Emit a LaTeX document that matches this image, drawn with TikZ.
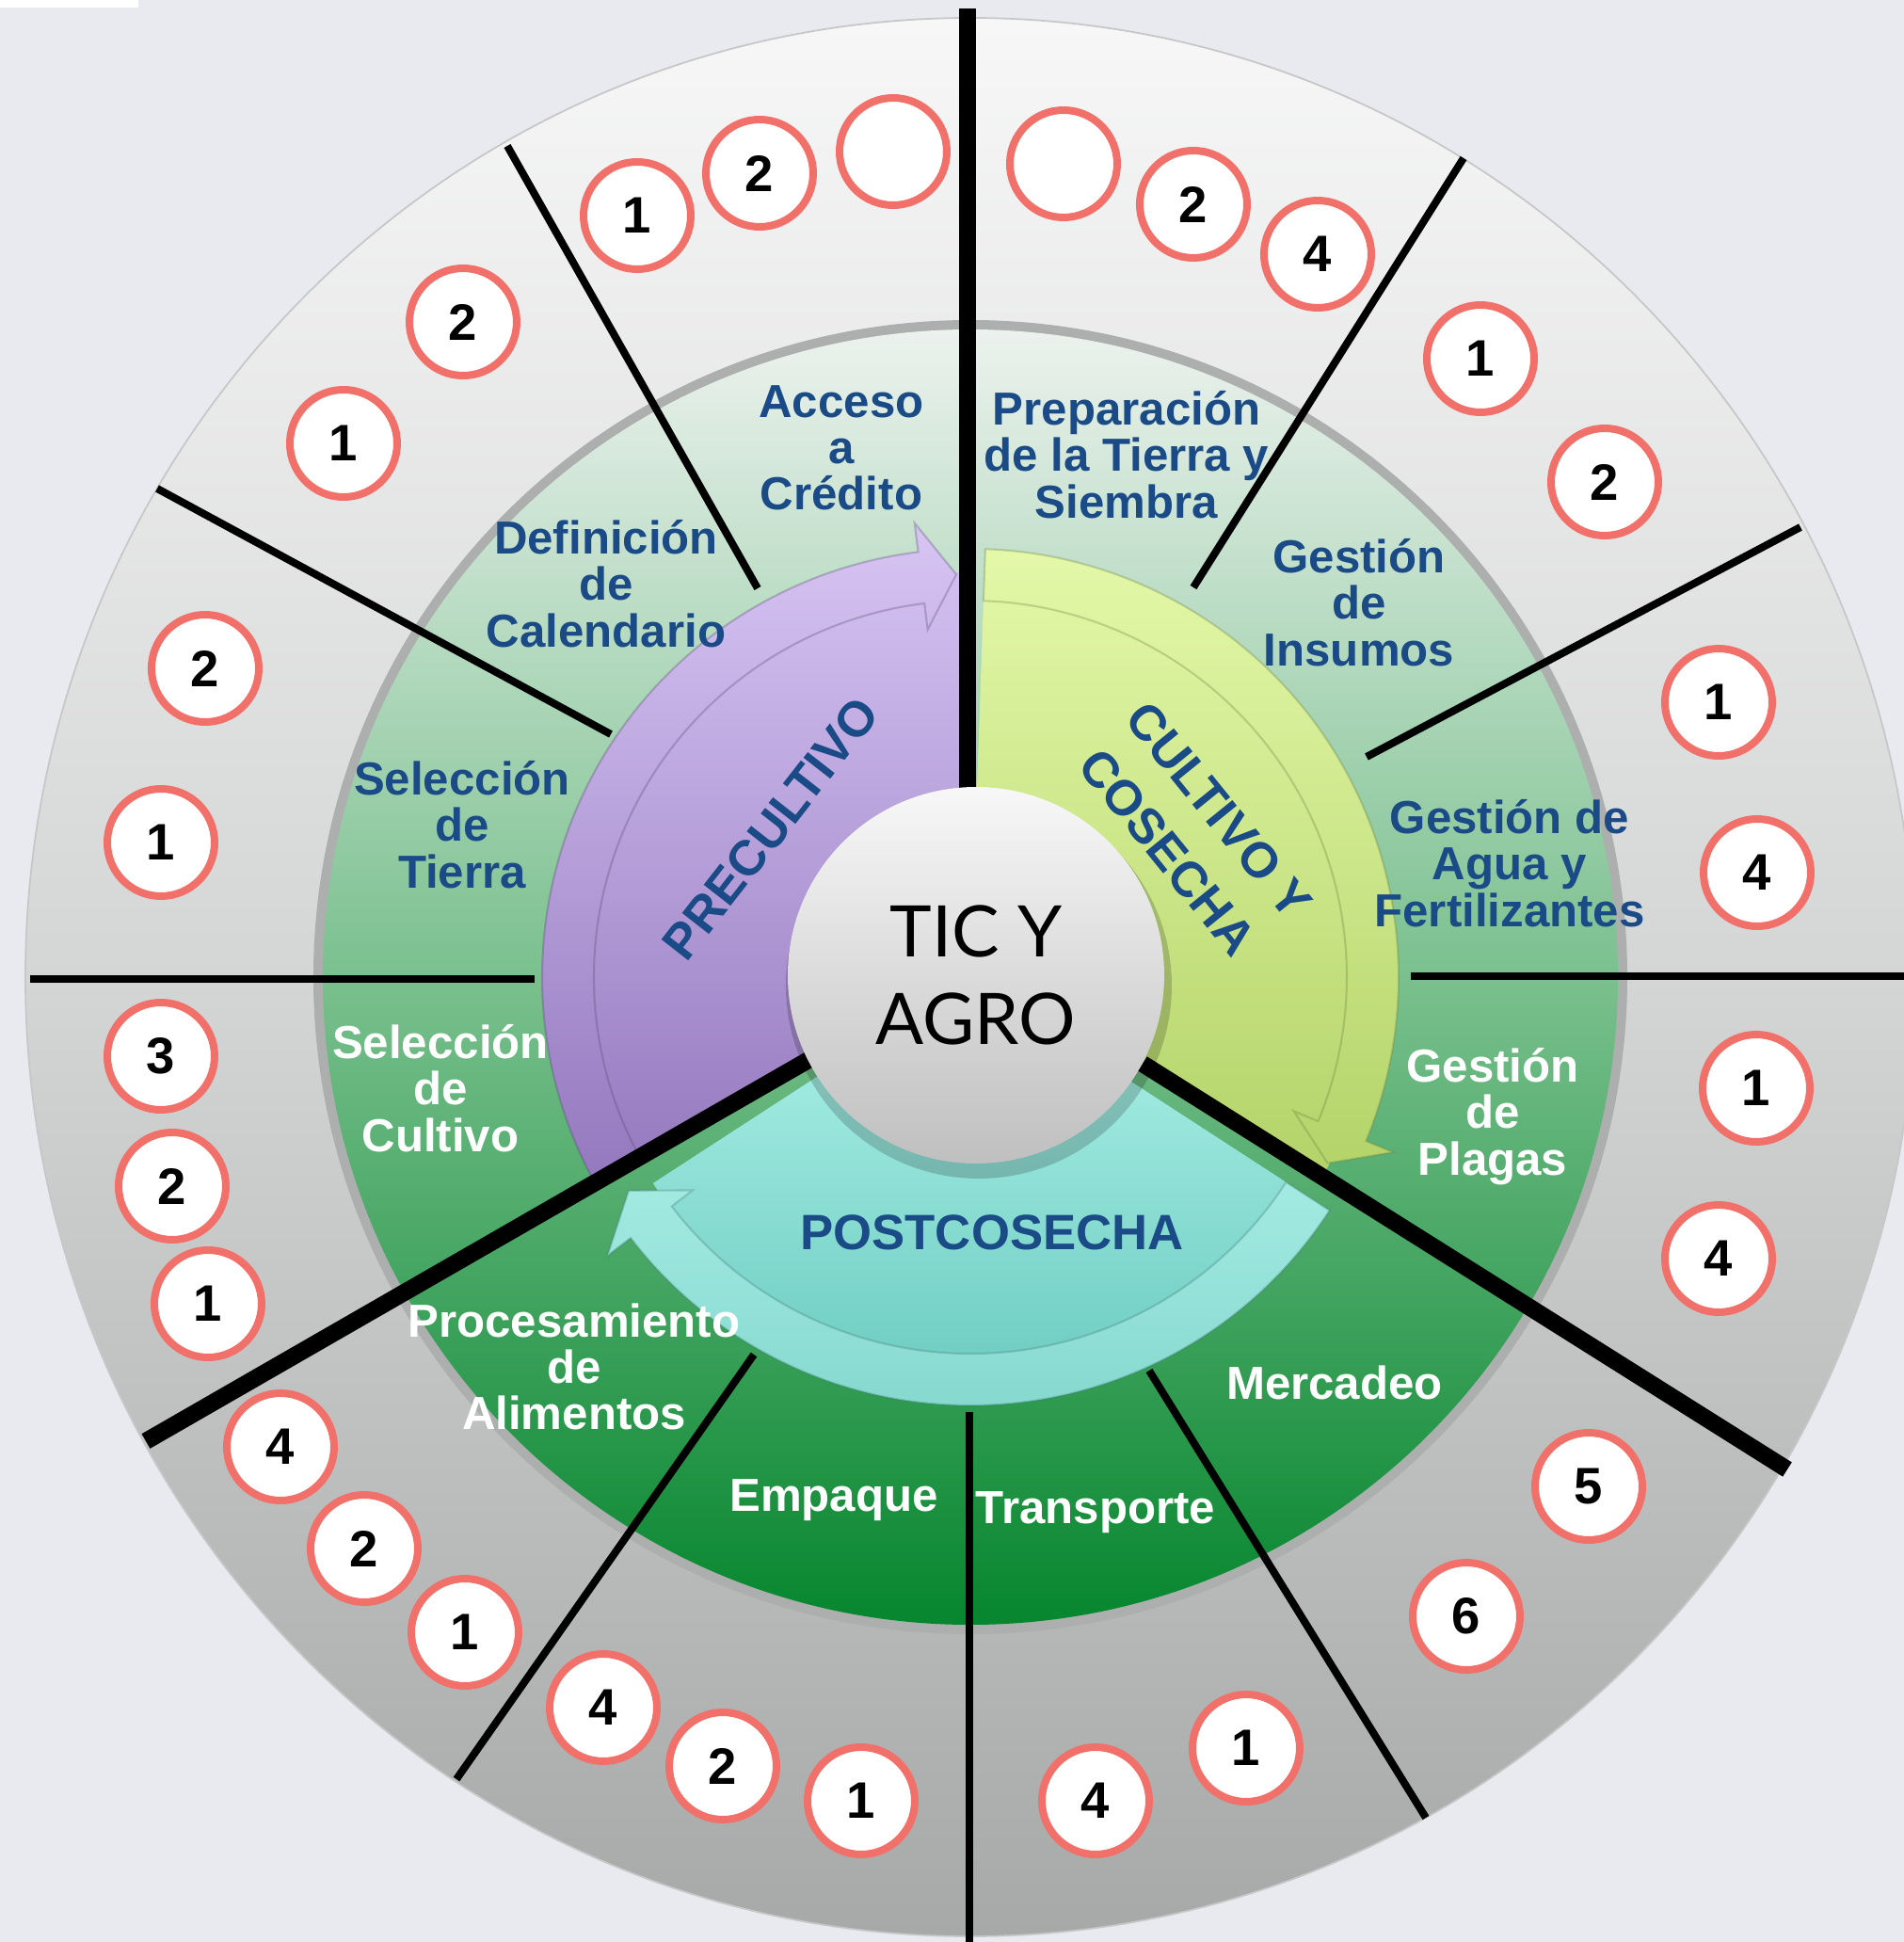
\documentclass[tikz,border=0pt]{standalone}
\usepackage{fontspec}
\setmainfont{Liberation Sans}
\newfontfamily\ticfont{Lato}
\usetikzlibrary{calc}
\definecolor{bg-gray}{RGB}{232,234,239}
\definecolor{ring-top}{RGB}{247,247,247}
\definecolor{ring-mid}{RGB}{212,213,213}
\definecolor{ring-bot}{RGB}{166,169,168}
\definecolor{rim-gray}{RGB}{172,175,174}
\definecolor{green-top}{RGB}{236,242,238}
\definecolor{green-mid}{RGB}{122,192,142}
\definecolor{green-bot}{RGB}{6,134,46}
\definecolor{lilac-top}{RGB}{216,198,244}
\definecolor{lilac-bot}{RGB}{146,118,189}
\definecolor{lime-top}{RGB}{230,250,172}
\definecolor{lime-bot}{RGB}{177,210,102}
\definecolor{aqua-top}{RGB}{162,235,226}
\definecolor{aqua-bot}{RGB}{104,201,189}
\definecolor{aqua-light}{RGB}{178,243,236}
\definecolor{aqua-lightbot}{RGB}{132,216,206}
\definecolor{stage-blue}{RGB}{26,75,135}
\definecolor{bubble-red}{RGB}{242,112,106}
\tikzstyle{bluetxt}=[align=center, text=stage-blue, font=\fontsize{14}{14}\selectfont\bfseries]
\tikzstyle{whitetxt}=[align=center, text=white, font=\fontsize{14}{14}\selectfont\bfseries]
\tikzstyle{phasetxt}=[align=center, text=stage-blue, font=\fontsize{15}{20}\selectfont\bfseries]
\tikzstyle{numbubble}=[circle, draw=bubble-red, fill=white, line width=0.08cm, minimum size=1.14cm, inner sep=0pt, font=\fontsize{15.5}{15.5}\selectfont\bfseries]
\tikzstyle{thinsep}=[line width=0.08cm]
\tikzstyle{thicksep}=[line width=0.18cm]
\tikzstyle{arrowedge}=[line width=0.6pt, draw opacity=0.3]
\tikzset{bandfill/.style n args={4}{path picture={\shade[top color=#1, bottom color=#2] (-5,#3) rectangle (5,#4);}}}
\def\ringsector[#1](#2:#3:#4)% Syntax: [fill options] (start angle:end angle:outer radius)
    { \path[#1] (#2:1.8) -- (#2:#4) arc (#2:#3:#4) -- (#3:1.8) arc (#3:#2:1.8) -- cycle; }
\def\ringarrow[#1](#2:#3:#4)% Syntax: [fill options] (start angle:barb angle:tip angle)
    { \path[#1] (#2:4.0) arc (#2:#3:4.0) -- (#3:3.72) -- (#4:4.28) -- (#3:4.86) -- (#3:4.55) arc (#3:#2:4.55) -- cycle; }
\begin{document}
\begin{tikzpicture}
\useasboundingbox (-10.31,-10.25) rectangle (9.92,10.38);
\fill[bg-gray] (-10.31,-10.25) rectangle (9.92,10.38);
\fill[white] (-10.31,10.30) rectangle (-8.84,10.38);
% outer ring and green disc
\path[draw=black!22, line width=0.5pt, top color=ring-top, bottom color=ring-bot, middle color=ring-mid] (0,0) ellipse (10.04 and 10.19);
\fill[rim-gray] (0,0) circle (6.98);
\path[top color=green-top, bottom color=green-bot, middle color=green-mid] (0,0) circle (6.88);
% phase bands
\ringsector[bandfill={lilac-top}{lilac-bot}{-2.4}{4.9}](91:208.5:4.3)
\ringarrow[bandfill={lilac-top}{lilac-bot}{-2.4}{4.9}, draw=lilac-bot!60!black, arrowedge](208.5:97:92)
\ringsector[bandfill={lime-top}{lime-bot}{-2.4}{4.9}](88:-29:4.3)
\ringarrow[bandfill={lime-top}{lime-bot}{-2.4}{4.9}, draw=lime-bot!60!black, arrowedge](88:-22.5:-27.5)
\ringsector[bandfill={aqua-top}{aqua-bot}{-4.6}{-0.9}](-33:-147:4.02)
\ringarrow[bandfill={aqua-light}{aqua-lightbot}{-4.6}{-0.9}, draw=aqua-bot!60!black, arrowedge](-33:-142.5:-148)
% separators between phases
\coordinate (topsep-in) at (-0.03,1.9);
\coordinate (topsep-out) at (-0.03,10.29);
\coordinate (leftsep-in) at (-1.72,-0.88);
\coordinate (leftsep-out) at (-8.76,-4.93);
\coordinate (rightsep-in) at (1.83,-0.92);
\coordinate (rightsep-out) at (8.68,-5.23);
\foreach \s in {topsep,leftsep,rightsep}
  \draw[thicksep] (\s-in) -- (\s-out);
% center
\fill[black, opacity=0.18] (0.09,-0.09) circle (2.05);
\node[circle, minimum size=4cm, inner sep=0pt, top color=white!97!black, bottom color=black!25, align=center,
  font=\ticfont\fontsize{21.5}{26.6}\selectfont] (tic) at (0.06,0.02) {TIC Y\\AGRO};
\node[phasetxt, rotate=52] (precultivo) at (-2.12,1.58) {PRECULTIVO};
\node[phasetxt, rotate=-51] (cosecha) at (2.37,1.55) {CULTIVO Y\\COSECHA};
\node[phasetxt] (postcosecha) at (0.23,-2.71) {POSTCOSECHA};
% stage labels
\node[bluetxt] (acceso) at (-1.37,5.62) {Acceso\\a\\Crédito};
\node[bluetxt] (preparacion) at (1.66,5.55) {Preparación\\de la Tierra y\\Siembra};
\node[bluetxt] (calendario) at (-3.87,4.18) {Definición\\de\\Calendario};
\node[bluetxt] (insumos) at (4.13,3.98) {Gestión\\de\\Insumos};
\node[bluetxt] (tierra) at (-5.40,1.62) {Selección\\de\\Tierra};
\node[bluetxt] (agua) at (5.73,1.21) {Gestión de\\Agua y\\Fertilizantes};
\node[whitetxt] (cultivo) at (-5.63,-1.18) {Selección\\de\\Cultivo};
\node[whitetxt] (plagas) at (5.55,-1.48) {Gestión\\de\\Plagas};
\node[whitetxt] (alimentos) at (-4.21,-4.14) {Procesamiento\\de\\Alimentos};
\node[whitetxt] (mercadeo) at (3.87,-4.31) {Mercadeo};
\node[whitetxt] (empaque) at (-1.45,-5.56) {Empaque};
\node[whitetxt] (transporte) at (1.33,-5.69) {Transporte};
% separators between stages
\coordinate (sepA-in) at (-2.26,4.13);  \coordinate (sepA-out) at (-4.92,8.83);
\coordinate (sepB-in) at (-3.82,2.58);  \coordinate (sepB-out) at (-8.64,5.19);
\coordinate (sepC-in) at (-4.63,-0.02); \coordinate (sepC-out) at (-9.99,-0.02);
\coordinate (sepD-in) at (4.68,0.01);   \coordinate (sepD-out) at (9.92,0.01);
\coordinate (sepE-in) at (2.37,4.14);   \coordinate (sepE-out) at (5.24,8.70);
\coordinate (sepF-in) at (4.21,2.34);   \coordinate (sepF-out) at (8.82,4.78);
\coordinate (sepG-in) at (-2.30,-4.01); \coordinate (sepG-out) at (-5.46,-8.52);
\coordinate (sepH-in) at (-0.01,-4.62); \coordinate (sepH-out) at (-0.01,-10.25);
\coordinate (sepI-in) at (1.90,-4.18);  \coordinate (sepI-out) at (4.84,-8.93);
\foreach \s in {A,B,C,D,E,F,G,H,I}
  \draw[thinsep] (sep\s-in) -- (sep\s-out);
% number bubbles
\foreach \name/\pos/\num in {
  acc1/{-3.54,8.09}/1, acc2/{-2.24,8.54}/2, acc3/{-0.82,8.77}/{},
  pre1/{0.99,8.64}/{}, pre2/{2.37,8.21}/2, pre3/{3.69,7.68}/4,
  ins1/{5.42,6.57}/1, ins2/{6.74,5.26}/2,
  agu1/{7.95,2.92}/1, agu2/{8.36,1.11}/4,
  pla1/{8.35,-1.18}/1, pla2/{7.95,-2.99}/4,
  mer1/{6.57,-5.41}/5, mer2/{5.27,-6.79}/6,
  tra1/{1.33,-8.75}/4, tra2/{2.93,-8.19}/1,
  emp1/{-3.90,-7.76}/4, emp2/{-2.63,-8.38}/2, emp3/{-1.16,-8.75}/1,
  pro1/{-7.33,-4.99}/4, pro2/{-6.44,-6.07}/2, pro3/{-5.37,-6.96}/1,
  cul1/{-8.60,-0.84}/3, cul2/{-8.48,-2.22}/2, cul3/{-8.10,-3.47}/1,
  tie1/{-8.13,3.28}/2, tie2/{-8.60,1.43}/1,
  cal1/{-5.39,6.96}/2, cal2/{-6.66,5.67}/1}
  \node[numbubble] (\name) at (\pos) {\num};
\end{tikzpicture}
\end{document}
